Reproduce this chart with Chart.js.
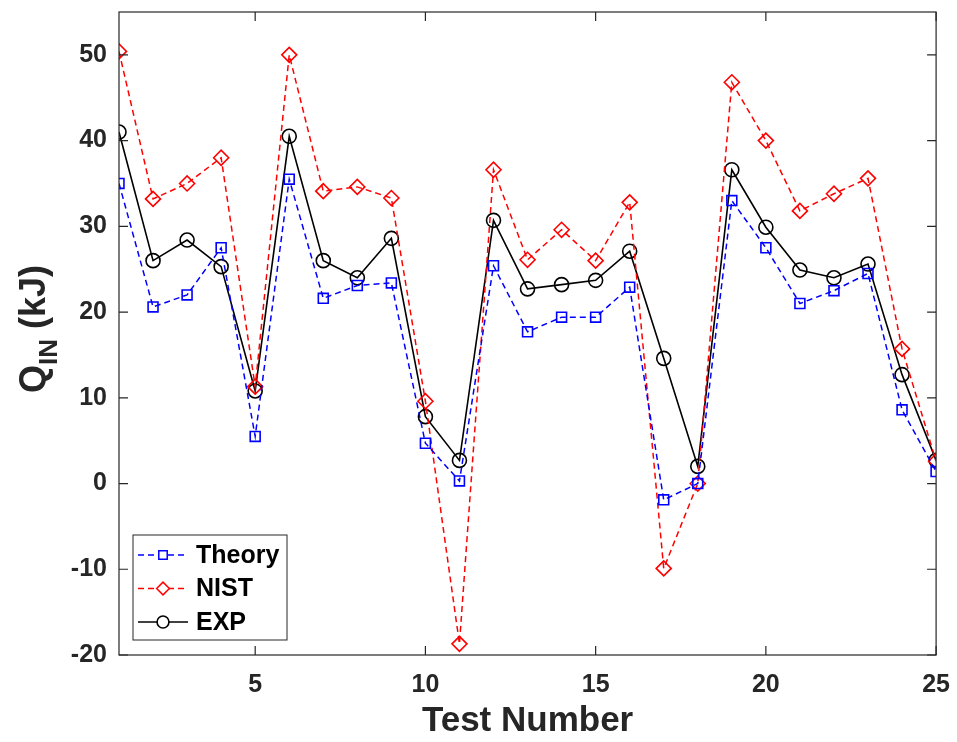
<!DOCTYPE html>
<html>
<head>
<meta charset="utf-8">
<script src="https://cdn.jsdelivr.net/npm/chart.js@4"></script>
<style>
  html, body { margin: 0; padding: 0; background: #fff; }
  #wrap { width: 957px; height: 742px; }
</style>
</head>
<body>
<div id="wrap"><canvas id="qinChart" width="957" height="742"></canvas></div>
<script>
// Test numbers 1..25
const testNumbers = [1,2,3,4,5,6,7,8,9,10,11,12,13,14,15,16,17,18,19,20,21,22,23,24,25];

const theory = [35.0, 20.6, 22.0, 27.5, 5.5, 35.5, 21.6, 23.1, 23.4, 4.7, 0.3, 25.4, 17.7,
                19.4, 19.4, 22.9, -1.9, 0.0, 33.0, 27.5, 21.0, 22.5, 24.5, 8.6, 1.4];
const nist   = [50.4, 33.2, 35.0, 38.0, 11.3, 50.0, 34.1, 34.6, 33.3, 9.6, -18.7, 36.6, 26.1,
                29.6, 26.0, 32.8, -9.9, 0.0, 46.8, 40.0, 31.8, 33.8, 35.6, 15.7, 2.6];
const expt   = [41.0, 26.0, 28.4, 25.3, 10.8, 40.5, 26.0, 24.0, 28.6, 7.8, 2.7, 30.7, 22.7,
                23.2, 23.7, 27.1, 14.6, 2.0, 36.6, 29.9, 24.9, 24.0, 25.6, 12.7, 2.7];

const xTicks = [5, 10, 15, 20, 25];
const yTicks = [-20, -10, 0, 10, 20, 30, 40, 50];

const FONT = '"Liberation Sans", Arial, sans-serif';
const AXIS_COLOR = '#262626';

function toPoints(arr) {
    return arr.map((v, i) => ({ x: testNumbers[i], y: v }));
}

// box + inward ticks like MATLAB, y title with subscript, legend inside the plot
const matlabLook = {
    id: 'matlabLook',
    afterDraw(chart) {
        const ctx = chart.ctx;
        const a = chart.chartArea;
        const xs = chart.scales.x, ys = chart.scales.y;
        ctx.save();
        ctx.strokeStyle = AXIS_COLOR;
        ctx.lineWidth = 1.2;
        ctx.strokeRect(a.left, a.top, a.right - a.left, a.bottom - a.top);
        const tl = 9;
        ctx.beginPath();
        xTicks.forEach(t => {
            const px = xs.getPixelForValue(t);
            ctx.moveTo(px, a.bottom); ctx.lineTo(px, a.bottom - tl);
            ctx.moveTo(px, a.top); ctx.lineTo(px, a.top + tl);
        });
        yTicks.forEach(t => {
            const py = ys.getPixelForValue(t);
            ctx.moveTo(a.left, py); ctx.lineTo(a.left + tl, py);
            ctx.moveTo(a.right, py); ctx.lineTo(a.right - tl, py);
        });
        ctx.stroke();

        // y axis title: Q_IN (kJ)
        ctx.translate(33, 329);
        ctx.rotate(-Math.PI / 2);
        ctx.fillStyle = AXIS_COLOR;
        ctx.textBaseline = 'alphabetic';
        const big = 'bold 36px ' + FONT, small = 'bold 26px ' + FONT;
        ctx.font = big;
        const wQ = ctx.measureText('Q').width;
        const wRest = ctx.measureText(' (kJ)').width;
        ctx.font = small;
        const wSub = ctx.measureText('IN').width;
        const x0 = -(wQ + wSub + wRest) / 2;
        ctx.font = big;
        ctx.fillText('Q', x0, 12);
        ctx.font = small;
        ctx.fillText('IN', x0 + wQ, 24);
        ctx.font = big;
        ctx.fillText(' (kJ)', x0 + wQ + wSub, 12);
        ctx.restore();

        // legend
        ctx.save();
        const lx = 133, ly = 535, lw = 154, lh = 105;
        ctx.fillStyle = '#fff';
        ctx.fillRect(lx, ly, lw, lh);
        ctx.strokeStyle = '#262626';
        ctx.lineWidth = 1;
        ctx.strokeRect(lx, ly, lw, lh);
        chart.data.datasets.forEach((ds, i) => {
            const cy = ly + 20 + i * 33.5;
            ctx.strokeStyle = ds.borderColor;
            ctx.lineWidth = ds.borderWidth;
            ctx.setLineDash(ds.borderDash || []);
            ctx.beginPath();
            ctx.moveTo(lx + 5, cy); ctx.lineTo(lx + 55, cy);
            ctx.stroke();
            ctx.setLineDash([]);
            ctx.fillStyle = '#fff';
            Chart.helpers.drawPoint(ctx, {
                pointStyle: ds.pointStyle, radius: ds.pointRadius * 0.85,
                borderWidth: ds.pointBorderWidth
            }, lx + 30, cy);
            ctx.fillStyle = '#000';
            ctx.font = 'bold 25px ' + FONT;
            ctx.textBaseline = 'middle';
            ctx.fillText(ds.label, lx + 63, cy + 1);
        });
        ctx.restore();
    }
};

const ctx = document.getElementById('qinChart').getContext('2d');
new Chart(ctx, {
    type: 'line',
    data: {
        datasets: [{
            label: 'Theory',
            data: toPoints(theory),
            borderColor: '#0000ff',
            borderWidth: 1.5,
            borderDash: [6, 4],
            pointStyle: 'rect',
            pointRadius: 7,
            pointBorderWidth: 1.6,
            pointBorderColor: '#0000ff',
            pointBackgroundColor: 'rgba(0,0,0,0)'
        }, {
            label: 'NIST',
            data: toPoints(nist),
            borderColor: '#ff0000',
            borderWidth: 1.5,
            borderDash: [6, 4],
            pointStyle: 'rectRot',
            pointRadius: 7.5,
            pointBorderWidth: 1.6,
            pointBorderColor: '#ff0000',
            pointBackgroundColor: 'rgba(0,0,0,0)'
        }, {
            label: 'EXP',
            data: toPoints(expt),
            borderColor: '#000000',
            borderWidth: 1.6,
            pointStyle: 'circle',
            pointRadius: 7,
            pointBorderWidth: 1.6,
            pointBorderColor: '#000000',
            pointBackgroundColor: 'rgba(0,0,0,0)'
        }]
    },
    options: {
        responsive: false,
        animation: false,
        layout: { padding: { left: 0, right: 15, top: 12, bottom: 0 } },
        plugins: {
            legend: { display: false },
            tooltip: { enabled: false }
        },
        scales: {
            x: {
                type: 'linear',
                min: 1,
                max: 25,
                afterBuildTicks: s => { s.ticks = xTicks.map(v => ({ value: v })); },
                afterFit: s => { s.height = 87; },
                grid: { display: false },
                border: { display: false },
                ticks: {
                    color: AXIS_COLOR,
                    padding: 7,
                    font: { family: FONT, size: 25, weight: 'bold' }
                },
                title: {
                    display: true,
                    text: 'Test Number',
                    color: AXIS_COLOR,
                    padding: { top: 0, bottom: 0 },
                    font: { family: FONT, size: 35, weight: 'bold' }
                }
            },
            y: {
                min: -20,
                max: 55,
                afterBuildTicks: s => { s.ticks = yTicks.map(v => ({ value: v })); },
                afterFit: s => { s.width = 119; s.paddingTop = 0; s.paddingBottom = 0; },
                grid: { display: false },
                border: { display: false },
                ticks: {
                    color: AXIS_COLOR,
                    padding: 4,
                    font: { family: FONT, size: 25, weight: 'bold' }
                }
            }
        }
    },
    plugins: [matlabLook]
});
</script>
</body>
</html>
